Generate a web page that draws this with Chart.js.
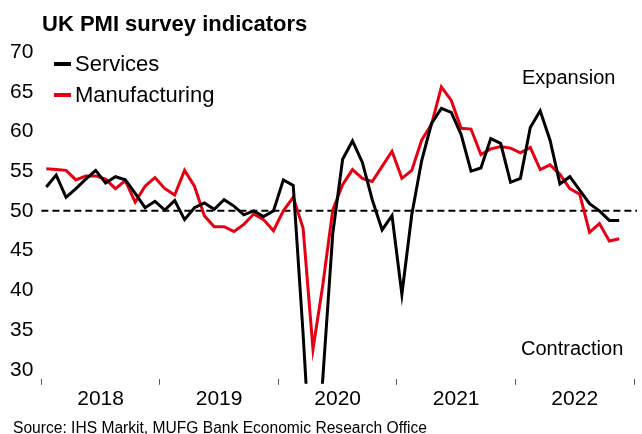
<!DOCTYPE html>
<html>
<head>
<meta charset="utf-8">
<script src="https://cdn.jsdelivr.net/npm/chart.js@4.4.0/dist/chart.umd.min.js"></script>
<style>
  html, body { margin: 0; padding: 0; background: #fff; }
  #wrap { position: relative; width: 642px; height: 434px; font-family: "Liberation Sans", Arial, sans-serif; color: #000; }
  #title { position: absolute; left: 42px; top: 11px; font-size: 22px; font-weight: bold; white-space: nowrap; }
  #source { position: absolute; left: 13px; top: 419px; font-size: 15.6px; white-space: nowrap; }
  canvas { position: absolute; left: 0; top: 0; }
</style>
</head>
<body>
<div id="wrap">
  <canvas id="chart" width="642" height="434"></canvas>
  <div id="title">UK PMI survey indicators</div>
  <div id="source">Source: IHS Markit, MUFG Bank Economic Research Office</div>
</div>
<script>
// monthly, Jan 2018 - Nov 2022 (axis runs to Dec 2022)
const years = ['2018', '2019', '2020', '2021', '2022'];
const months = [];
years.forEach(y => { for (let m = 1; m <= 12; m++) months.push(y + '-' + String(m).padStart(2, '0')); });

const services = [
  53.0, 54.5, 51.7, 52.8, 54.0, 55.1, 53.5, 54.3, 53.9, 52.2, 50.4, 51.2,
  50.1, 51.3, 48.9, 50.4, 51.0, 50.2, 51.4, 50.6, 49.5, 50.0, 49.3, 50.0,
  53.9, 53.2, 34.5, 13.4, 29.0, 47.1, 56.5, 58.8, 56.1, 51.4, 47.6, 49.4,
  39.5, 49.5, 56.3, 61.0, 62.9, 62.4, 59.6, 55.0, 55.4, 59.1, 58.5, 53.6,
  54.1, 60.5, 62.6, 58.9, 53.4, 54.3, 52.6, 50.9, 50.0, 48.8, 48.8
];
const manufacturing = [
  55.3, 55.2, 55.1, 53.9, 54.4, 54.4, 54.0, 52.8, 53.8, 51.1, 53.1, 54.2,
  52.8, 52.0, 55.1, 53.1, 49.4, 48.0, 48.0, 47.4, 48.3, 49.6, 48.9, 47.5,
  50.0, 51.7, 47.8, 32.6, 40.7, 50.1, 53.3, 55.2, 54.1, 53.7, 55.6, 57.5,
  54.1, 55.1, 58.9, 60.9, 65.6, 63.9, 60.4, 60.3, 57.1, 57.8, 58.1, 57.9,
  57.3, 58.0, 55.2, 55.8, 54.6, 52.8, 52.1, 47.3, 48.4, 46.2, 46.5
];
const yTicks = [30, 35, 40, 45, 50, 55, 60, 65, 70];
const threshold = 50;
const zoneLabels = ['Expansion', 'Contraction'];

const FONT = '"Liberation Sans", Arial, sans-serif';

// dashed 50 line
const thresholdLine = {
  id: 'thresholdLine',
  beforeDatasetsDraw(chart) {
    const { ctx, chartArea } = chart;
    const y = chart.scales.y.getPixelForValue(threshold);
    ctx.save();
    ctx.strokeStyle = '#000';
    ctx.lineWidth = 2;
    ctx.setLineDash([7, 4]);
    ctx.beginPath();
    ctx.moveTo(chartArea.left, y);
    ctx.lineTo(chartArea.right + 3, y);
    ctx.stroke();
    ctx.restore();
  }
};

// legend inside the plot + zone labels
const overlayText = {
  id: 'overlayText',
  afterDraw(chart) {
    const { ctx } = chart;
    const ys = chart.scales.y;
    ctx.save();
    ctx.textBaseline = 'middle';
    ctx.font = '22px ' + FONT;
    chart.data.datasets.forEach((ds, i) => {
      const y = 64 + i * 31;
      ctx.strokeStyle = ds.borderColor;
      ctx.lineWidth = 4;
      ctx.beginPath();
      ctx.moveTo(54, y);
      ctx.lineTo(71, y);
      ctx.stroke();
      ctx.fillStyle = '#000';
      ctx.fillText(ds.label, 75, y + 1);
    });
    ctx.font = '20px ' + FONT;
    ctx.fillStyle = '#000';
    ctx.fillText(zoneLabels[0], 522, ys.getPixelForValue(66.7));
    ctx.fillText(zoneLabels[1], 521, ys.getPixelForValue(32.5));
    ctx.restore();
  }
};

new Chart(document.getElementById('chart'), {
  type: 'line',
  data: {
    labels: months,
    datasets: [
      { label: 'Services', data: services, borderColor: '#000000', borderWidth: 3, clip: { left: 0, top: 0, right: 0, bottom: 5 } },
      { label: 'Manufacturing', data: manufacturing, borderColor: '#e60012', borderWidth: 3, clip: { left: 0, top: 0, right: 0, bottom: 5 } }
    ]
  },
  options: {
    responsive: false,
    animation: false,
    events: [],
    layout: { padding: { left: 2, right: 8, top: 52, bottom: 20 } },
    elements: {
      point: { radius: 0 },
      line: { tension: 0, borderJoinStyle: 'miter' }
    },
    plugins: { legend: { display: false }, title: { display: false }, tooltip: { enabled: false } },
    scales: {
      x: {
        type: 'category',
        offset: true,
        border: { display: false },
        grid: {
          offset: true,
          drawOnChartArea: false,
          tickLength: 6,
          tickWidth: 1,
          tickColor: c => (c.type === 'scale' || c.index % 12 === 0) ? '#555' : 'rgba(0,0,0,0)'
        },
        ticks: {
          autoSkip: false,
          maxRotation: 0,
          labelOffset: 4.9,
          padding: 2,
          color: '#000',
          font: { family: FONT, size: 21 },
          callback: (v, i) => i % 12 === 5 ? years[Math.floor(i / 12)] : ''
        }
      },
      y: {
        min: 28.86,
        max: 70,
        border: { display: false },
        grid: { display: false, drawTicks: false },
        afterBuildTicks: s => { s.ticks = yTicks.map(v => ({ value: v })); },
        ticks: { padding: 8, color: '#000', font: { family: FONT, size: 21 } }
      }
    }
  },
  plugins: [thresholdLine, overlayText]
});
</script>
</body>
</html>
